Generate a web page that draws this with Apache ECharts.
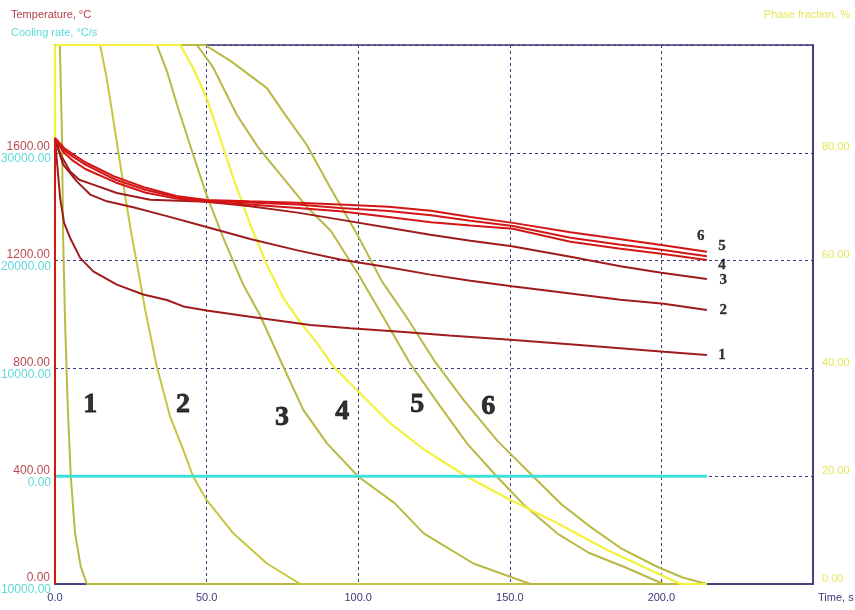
<!DOCTYPE html>
<html>
<head>
<meta charset="utf-8">
<script src="https://cdn.jsdelivr.net/npm/echarts@6/dist/echarts.min.js"></script>
<style>
html,body{margin:0;padding:0;background:#fff;}
#chart{width:855px;height:610px;}
</style>
</head>
<body>
<div id="chart"></div>
<script>
// ---- Axis ticks / titles ----
const timeTicks = [0, 50, 100, 150, 200, 250];
const tempTicks = [0, 400, 800, 1200, 1600, 2000];
const rateTicks = [-10000, 0, 10000, 20000, 30000, 40000];
const phaseTicks = [0, 20, 40, 60, 80, 100];

// ---- Temperature curves, [time s, °C] ----
const temp1 = [[0,0],[0,1650],[1.7,1432],[3,1340],[5,1284],[8.3,1210],[12.6,1160],[20.4,1111],[29.1,1074],[36.9,1054],[42.3,1030],[50,1015],[64.4,992],[84.2,961],[97.4,949],[113.9,936],[130,922],[150.2,906],[175,885],[200.8,862],[215,850]];
const temp2 = [[0,0],[0,1650],[2.7,1556],[7.2,1494],[11.6,1445],[17.1,1420],[25.8,1398],[36.9,1365],[50,1325],[64.4,1280],[80,1238],[94,1204],[110,1175],[123.8,1148],[137,1125],[150.7,1105],[170,1078],[186.5,1055],[200.8,1040],[215,1017]];
const temp3 = [[0,0],[0,1650],[2,1590],[5,1531],[8,1500],[12.6,1482],[20.4,1451],[31.4,1426],[50,1418],[64.4,1402],[80,1378],[94,1352],[110,1322],[123.8,1296],[137,1274],[150.7,1253],[170,1214],[186.5,1179],[200,1155],[215,1132]];
const temp4 = [[0,0],[0,1650],[3,1600],[6,1570],[10,1540],[20,1490],[30,1452],[40,1430],[50,1418],[64,1408],[80,1395],[94,1383],[110,1362],[124,1342],[137,1330],[151,1318],[170,1270],[186,1245],[200,1225],[215,1202]];
const temp5 = [[0,0],[0,1650],[3,1610],[6,1585],[10,1556],[20,1500],[30,1462],[40,1436],[50,1422],[64,1416],[80,1408],[94,1395],[110,1384],[124,1368],[137,1348],[151,1328],[170,1285],[186,1260],[200,1240],[215,1216]];
const temp6 = [[0,0],[0,1655],[3,1618],[6,1594],[10,1565],[20,1510],[30,1470],[40,1440],[50,1425],[64,1420],[80,1415],[94,1408],[110,1400],[124,1385],[137,1362],[151,1340],[170,1305],[186,1280],[200,1258],[215,1233]];

// ---- Cooling rate, [time s, °C/s] ----
const coolRate = [[0,0],[215,0]];

// ---- Phase fraction curves, [time s, %] ----
const phase1 = [[0,100],[1.6,100],[2.3,83],[2.7,64],[3.3,49],[4.2,33],[5.2,20],[6.6,9.5],[8.5,3.2],[10.5,0],[215,0]];
const phase2 = [[0,100],[14.9,100],[17,94],[19,87],[21.5,78],[23.7,70],[25.5,64],[27.5,58],[29.7,51],[33.6,40.3],[38,31],[42.3,24.9],[45.6,19.9],[50,15.6],[58.8,9.4],[69.9,3.8],[80.9,0],[215,0]];
const phase3 = [[0,100],[33.6,100],[37,95],[40.2,89],[45.6,79.6],[50,72.2],[55.5,64.2],[62.1,55.5],[67.5,50],[75.3,40.3],[81.9,32.3],[89.7,26.1],[100.1,19.9],[112,15],[121.6,9.4],[138,3.8],[156.8,0],[215,0]];
const phase4 = [[0,0],[0,100],[41.3,100],[45.6,95.7],[50,90.2],[54.5,82.7],[58.8,75.3],[64.4,66.7],[69.9,59.2],[75.3,53.1],[79.8,49.4],[86.4,44.7],[91.9,40.3],[102.9,34.1],[110.6,29.8],[121.6,25],[135.9,19.9],[150.2,15.6],[165.6,11.3],[182.1,6.3],[198.6,2],[206.3,0],[215,0]];
const phase5 = [[0,100],[46.8,100],[52,96],[60,87],[67,81],[75.3,75.3],[83,70],[91,65.5],[100,57.5],[108.4,49.4],[117,41],[127,33],[136,26],[145.8,19.9],[155,14.5],[165.6,9.4],[176,5.8],[187.6,3.2],[200.7,0],[215,0]];
const phase6 = [[0,100],[49.5,100],[58,97],[69.9,92],[76,87],[83,81.5],[90.8,73.5],[94,70.4],[100,64.5],[108,56],[116.1,49.4],[125,41.5],[134.8,34.1],[146,26.5],[157.8,19.9],[167,14.8],[176.6,10.6],[187,6.5],[198.6,3.2],[207,1.2],[215,0]];

// ---- Curve number labels ----
const phaseLabels = [[11.6,33.2,'1'],[42.2,33.2,'2'],[74.9,30.8,'3'],[94.7,31.9,'4'],[119.5,33.2,'5'],[142.9,32.8,'6']];
const tempLabels = [[213,1290,'6'],[220,1252,'5'],[220,1184,'4'],[220.4,1128,'3'],[220.4,1017,'2'],[220,850,'1']];

const titleTemp = 'Temperature, °C';
const titleRate = 'Cooling rate, °C/s';
const titlePhase = 'Phase fraction, %';
const titleTime = 'Time, s';

const NAVY = '#3a3a7a';
const OLIVE = '#b9b944';
const BRIGHT = '#f2f23c';
const DARKRED = '#a01c1c';
const RED = '#d41515';
const CYAN = '#3fe0dc';

const chart = echarts.init(document.getElementById('chart'));

function lineSeries(name, data, yIdx, color, width, z) {
  return {
    name, type: 'line', data, xAxisIndex: 0, yAxisIndex: yIdx,
    showSymbol: false, symbol: 'none', clip: false, z: z,
    lineStyle: { color, width }, animation: false
  };
}

const labelFont = 'Liberation Sans, Arial, sans-serif';
const serifFont = '"Liberation Serif", "Times New Roman", serif';

function numLabel(size, stroke) {
  return {
    show: true, position: 'inside', align: 'center', verticalAlign: 'middle',
    formatter: p => p.data[2], color: '#000000', textBorderColor: '#000000', textBorderWidth: stroke,
    fontSize: size, fontWeight: 700, fontFamily: serifFont
  };
}

const option = {
  animation: false,
  backgroundColor: '#ffffff',
  grid: { left: 55, top: 45, right: 42, bottom: 26, containLabel: false, outerBoundsMode: 'none',
          show: true, borderColor: NAVY, borderWidth: 1.5, backgroundColor: 'transparent' },
  graphic: [
    { type: 'text', left: 11, top: 9, style: { text: titleTemp, fill: '#b03a48', font: '11px ' + labelFont } },
    { type: 'text', left: 11, top: 27, style: { text: titleRate, fill: '#5fdada', font: '11px ' + labelFont } },
    { type: 'text', right: 5, top: 9, style: { text: titlePhase, fill: '#e6e65a', font: '11px ' + labelFont } }
  ],
  xAxis: [{
    type: 'value', min: timeTicks[0], max: timeTicks[timeTicks.length - 1], interval: 50,
    axisLine: { show: true, lineStyle: { color: NAVY, width: 1.5 } },
    axisTick: { show: false },
    axisLabel: { color: NAVY, fontSize: 11, fontFamily: labelFont, margin: 8, showMaxLabel: false, formatter: v => v.toFixed(1) },
    splitLine: { show: true, lineStyle: { color: NAVY, type: [3, 3], width: 1 } },
    name: titleTime, nameLocation: 'end', nameGap: 5,
    nameTextStyle: { color: NAVY, fontSize: 11, fontFamily: labelFont, align: 'left', verticalAlign: 'top', padding: [8, 0, 0, 0] }
  }],
  yAxis: [
    {
      type: 'value', position: 'left', min: tempTicks[0], max: tempTicks[tempTicks.length - 1], interval: 400,
      axisLine: { show: true, lineStyle: { color: '#c01818', width: 2 } },
      axisTick: { show: false },
      axisLabel: { color: '#b84a50', fontSize: 12, fontFamily: labelFont, margin: 5, verticalAlign: 'bottom', showMaxLabel: false, formatter: v => v.toFixed(2) },
      splitLine: { show: true, lineStyle: { color: NAVY, type: [3, 3], width: 1 } }
    },
    {
      type: 'value', position: 'left', min: rateTicks[0], max: rateTicks[rateTicks.length - 1], interval: 10000,
      axisLine: { show: false }, axisTick: { show: false },
      axisLabel: { color: '#5fd8d8', fontSize: 12, fontFamily: labelFont, margin: 4, verticalAlign: 'top', showMaxLabel: false, formatter: v => v.toFixed(2) },
      splitLine: { show: false }
    },
    {
      type: 'value', position: 'right', min: phaseTicks[0], max: phaseTicks[phaseTicks.length - 1], interval: 20,
      axisLine: { show: true, lineStyle: { color: NAVY, width: 1.5 } }, axisTick: { show: false },
      axisLabel: { color: '#e6e660', fontSize: 11, fontFamily: labelFont, margin: 9, verticalAlign: 'bottom', showMaxLabel: false, formatter: v => v.toFixed(2) },
      splitLine: { show: false }
    }
  ],
  series: [
    lineSeries('phase1', phase1, 2, OLIVE, 2, 2),
    lineSeries('phase2', phase2, 2, '#c6c63e', 2, 2),
    lineSeries('phase3', phase3, 2, OLIVE, 2, 2),
    lineSeries('phase5', phase5, 2, OLIVE, 2, 2),
    lineSeries('phase6', phase6, 2, OLIVE, 2, 2),
    lineSeries('phase4', phase4, 2, BRIGHT, 2.2, 3),
    lineSeries('cooling', coolRate, 1, CYAN, 3, 4),
    lineSeries('temp1', temp1, 0, DARKRED, 2, 5),
    lineSeries('temp2', temp2, 0, DARKRED, 2, 5),
    lineSeries('temp3', temp3, 0, DARKRED, 2, 5),
    lineSeries('temp4', temp4, 0, RED, 2, 6),
    lineSeries('temp5', temp5, 0, RED, 2, 6),
    lineSeries('temp6', temp6, 0, RED, 2, 6),
    {
      type: 'scatter', xAxisIndex: 0, yAxisIndex: 2, data: phaseLabels, symbolSize: 0,
      itemStyle: { color: 'rgba(0,0,0,0)' }, z: 10, silent: true, label: numLabel(28, 0.8)
    },
    {
      type: 'scatter', xAxisIndex: 0, yAxisIndex: 0, data: tempLabels, symbolSize: 0,
      itemStyle: { color: 'rgba(0,0,0,0)' }, z: 10, silent: true, label: numLabel(15, 0.3)
    }
  ]
};
chart.setOption(option);
</script>
</body>
</html>
